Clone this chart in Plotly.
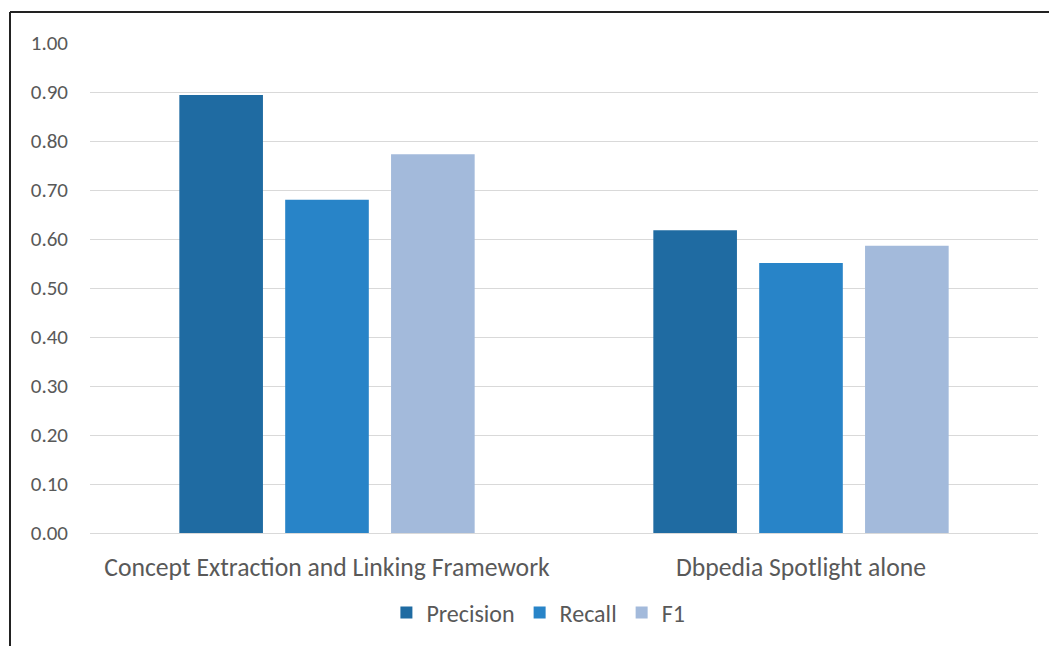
import plotly.graph_objects as go

categories = ["Concept Extraction and Linking Framework", "Dbpedia Spotlight alone"]
series_names = ["Precision", "Recall", "F1"]
precision = [0.894, 0.618]
recall = [0.680, 0.551]
f1 = [0.773, 0.586]
colors = ["#1F6BA2", "#2884C8", "#A3BADB"]
y_ticks = [0.0, 0.1, 0.2, 0.3, 0.4, 0.5, 0.6, 0.7, 0.8, 0.9, 1.0]

font_family = "Carlito, Lato, 'Open Sans', sans-serif"

fig = go.Figure()
for name, vals, col in zip(series_names, [precision, recall, f1], colors):
    fig.add_trace(go.Bar(x=categories, y=vals, name=name, marker_color=col,
                         marker_line_width=0))

fig.update_layout(
    width=1049, height=646,
    margin=dict(l=90, r=11, t=43, b=113),
    paper_bgcolor="white", plot_bgcolor="white",
    barmode="group", bargap=0.33, bargroupgap=0.21,
    font=dict(family=font_family, color="#595959"),
    legend=dict(orientation="h", x=0.473, xanchor="center", y=-0.163, yanchor="middle",
                font=dict(size=24, color="#595959"), itemwidth=30, traceorder="normal"),
    showlegend=True,
)
fig.update_yaxes(range=[0, 1.0], tickvals=y_ticks, tickformat=".2f",
                 showgrid=True, gridcolor="#D9D9D9", gridwidth=1,
                 zeroline=True, zerolinecolor="#D9D9D9", zerolinewidth=1,
                 showline=False, ticks="", tickfont=dict(size=21, color="#595959"),
                 ticklabelstandoff=21)
fig.update_xaxes(showgrid=False, showline=True, linecolor="#D9D9D9", linewidth=1,
                 ticks="", tickfont=dict(size=25.7, color="#595959"),
                 ticklabelstandoff=11)

# outer frame (top and left edges visible)
fig.add_shape(type="line", xref="paper", yref="paper", x0=-80/948, x1=1.02, y0=1+31/490, y1=1+31/490,
              line=dict(color="#222222", width=2))
fig.add_shape(type="line", xref="paper", yref="paper", x0=-80/948, x1=-80/948, y0=1+31/490, y1=-0.3,
              line=dict(color="#222222", width=2))

fig.write_html("out.html")
